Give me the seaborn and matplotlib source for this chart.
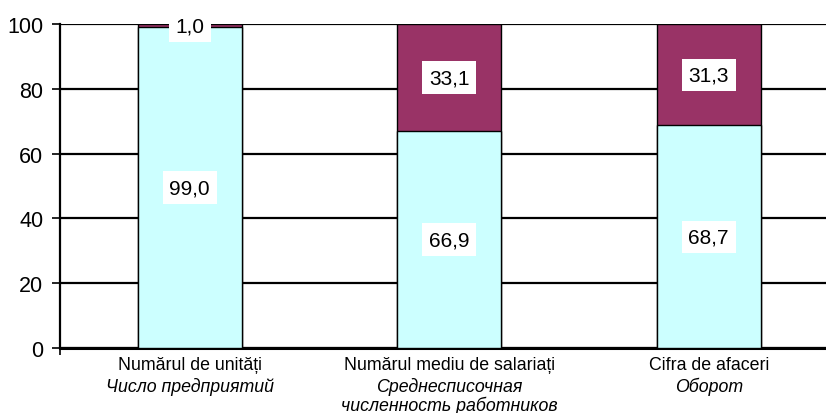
import matplotlib
matplotlib.use("Agg")
import matplotlib.pyplot as plt
import seaborn as sns

# --- data -------------------------------------------------------------------
categories = ["Numărul de unități", "Numărul mediu de salariați", "Cifra de afaceri"]
subtitles = [["Число предприятий"], ["Среднесписочная", "численность работников"], ["Оборот"]]
share_small = [99.0, 66.9, 68.7]   # cyan segment
share_large = [1.0, 33.1, 31.3]    # maroon segment
yticks = [0, 20, 40, 60, 80, 100]

CYAN = "#ccffff"
MAROON = "#993366"

sns.set_style("white")
plt.rcParams["font.family"] = ["Liberation Sans", "DejaVu Sans"]
plt.rcParams["text.color"] = "black"
plt.rcParams["ytick.color"] = "black"
plt.rcParams["xtick.color"] = "black"

fig = plt.figure(figsize=(8.26, 4.14), dpi=100)
ax = fig.add_axes([0.0726, 0.157, 0.9425, 0.7826])

totals = [a + b for a, b in zip(share_small, share_large)]
sns.barplot(x=categories, y=totals, color=MAROON, saturation=1, width=0.4,
            edgecolor="black", linewidth=1, ax=ax, zorder=3)
sns.barplot(x=categories, y=share_small, color=CYAN, saturation=1, width=0.4,
            edgecolor="black", linewidth=1, ax=ax, zorder=3)

ax.set_xlim(-0.5, 2.5)
ax.set_ylim(0, 100)
ax.set_yticks(yticks)
ax.set_yticklabels([str(t) for t in yticks], fontsize=15.5)
ax.yaxis.grid(True, color="black", linewidth=1.6, zorder=0)
ax.set_axisbelow(True)
ax.tick_params(axis="y", direction="out", length=6, width=1.2, color="black", left=True, pad=6)
ax.set_xticks([])
ax.set_xticks([-0.5], minor=True)
ax.tick_params(axis="x", which="minor", direction="out", length=5, width=1.2, color="black", bottom=True)
ax.set_xlabel("")
ax.set_ylabel("")
for side in ["top", "right"]:
    ax.spines[side].set_visible(False)
ax.spines["left"].set_color("black")
ax.spines["left"].set_linewidth(1.6)
ax.spines["bottom"].set_color("black")
ax.spines["bottom"].set_linewidth(2.2)

# value labels
box = dict(boxstyle="square,pad=0.32", facecolor="white", edgecolor="none")
for i, (lo, hi) in enumerate(zip(share_small, share_large)):
    ax.text(i, lo / 2, f"{lo:.1f}".replace(".", ","), ha="center", va="center",
            fontsize=15, bbox=box, zorder=5)
    ax.text(i, lo + hi / 2, f"{hi:.1f}".replace(".", ","), ha="center", va="center",
            fontsize=15, bbox=box, zorder=5)

# category labels: Romanian line + italic Russian lines
for i, (cat, subs) in enumerate(zip(categories, subtitles)):
    ax.annotate(cat, xy=(i, 0), xycoords=("data", "axes fraction"), xytext=(0, -12),
                textcoords="offset points", ha="center", va="center", fontsize=12.8,
                annotation_clip=False)
    for j, s in enumerate(subs):
        ax.annotate(s, xy=(i, 0), xycoords=("data", "axes fraction"),
                    xytext=(0, -27 - 13.8 * j), textcoords="offset points",
                    ha="center", va="center", fontsize=12.8, style="italic",
                    annotation_clip=False)

fig.savefig("out.png", dpi=100)
